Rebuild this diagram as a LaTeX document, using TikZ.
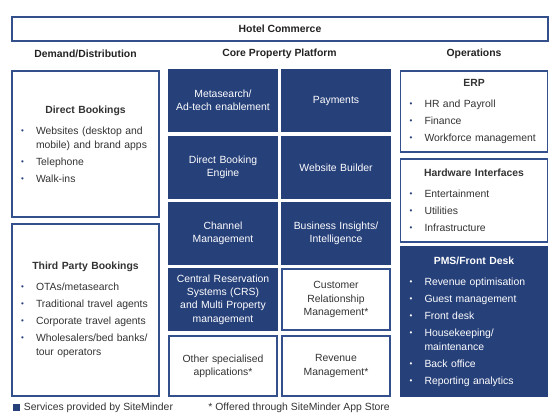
\documentclass[tikz,border=0pt]{standalone}
\usepackage{fontspec}
\setmainfont{Liberation Sans}
\usetikzlibrary{positioning}
\definecolor{Navy}{HTML}{26407A}
\definecolor{Edge}{HTML}{34508C}
\definecolor{Ink}{HTML}{333333}
\definecolor{Head}{HTML}{222222}

\newcommand{\bulcolor}{Navy}
\newcommand{\bul}[1]{\par\vspace{2.25pt}\noindent
  \makebox[14pt][l]{\hspace{2.75pt}\textcolor{\bulcolor}{\raisebox{0.6pt}{\fontsize{6}{6}\selectfont\textbullet}}}#1\par}
\newcommand{\cont}[1]{\par\noindent\hspace*{14pt}#1\par}
\newcommand{\ptitle}[1]{{\centering\bfseries #1\par}\vspace{3pt}}

\begin{document}
\begin{tikzpicture}[
  x=0.75pt, y=-0.75pt,
  font=\fontsize{7.8}{10.5}\selectfont, text=Ink,
  box/.style={draw=Edge, line width=0.8pt, inner sep=0pt, fill=white},
  head/.style={font=\fontsize{7.8}{10.5}\selectfont\bfseries, text=Head},
  core/.style={box, minimum width=81pt, minimum height=45.75pt, align=center, text width=77pt, font=\fontsize{7.8}{10}\selectfont},
  sm/.style={core, fill=Navy, draw=Navy, text=white},
  panel/.style={box, inner xsep=4pt, align=left, text width=102.25pt},
  smpanel/.style={panel, fill=Navy, draw=Navy, text=white, execute at begin node={\renewcommand{\bulcolor}{white}}}
]
\useasboundingbox (0,0) rectangle (560,419);

% top bar and column heads
\node[box, head, minimum width=402pt, minimum height=18pt] (hotel) at (280,29) {Hotel Commerce};
\node[head] (demand) at (85.5,54) {Demand/Distribution};
\node[head] (core) at (279.5,54) {Core Property Platform};
\node[head] (ops) at (474,54) {Operations};

% demand / distribution
\node[panel, minimum height=109.5pt] (direct) at (85.5,144) {\ptitle{Direct Bookings}
  \bul{Websites (desktop and}\cont{mobile) and brand apps}
  \bul{Telephone}
  \bul{Walk-ins}};
\node[panel, minimum height=129pt] (third) at (85.5,310) {\ptitle{Third Party Bookings}
  \bul{OTAs/metasearch}
  \bul{Traditional travel agents}
  \bul{Corporate travel agents}
  \bul{Wholesalers/bed banks/}\cont{tour operators}};

% core property platform
\node[sm] (meta) at (223,100.5) {Metasearch/\\Ad-tech enablement};
\node[sm] (pay) at (336,100.5) {Payments};
\node[sm] (dbe) at (223,167.5) {Direct Booking\\Engine};
\node[sm] (web) at (336,167.5) {Website Builder};
\node[sm] (chan) at (223,233.5) {Channel\\Management};
\node[sm] (bi) at (336,233.5) {Business Insights/\\Intelligence};
\node[sm] (crs) at (223,299.5) {Central Reservation\\Systems (CRS)\\and Multi Property\\management};
\node[core] (crm) at (336,299.5) {Customer\\Relationship\\Management*};
\node[core, minimum height=45pt] (other) at (223,366) {Other specialised\\applications*};
\node[core, minimum height=45pt] (rev) at (336,366) {Revenue\\Management*};

% operations
\node[panel, minimum height=60.75pt] (erp) at (474,111.5) {\ptitle{ERP}
  \bul{HR and Payroll}
  \bul{Finance}
  \bul{Workforce management}};
\node[panel, minimum height=62.25pt] (hw) at (474,200.5) {\ptitle{Hardware Interfaces}
  \bul{Entertainment}
  \bul{Utilities}
  \bul{Infrastructure}};
\node[smpanel, minimum height=111.75pt] (pms) at (474,321.5) {\ptitle{PMS/Front Desk}
  \bul{Revenue optimisation}
  \bul{Guest management}
  \bul{Front desk}
  \bul{Housekeeping/}\cont{maintenance}
  \bul{Back office}
  \bul{Reporting analytics}};

% legend
\node[fill=Navy, minimum size=5.25pt, inner sep=0pt] (key) at (16.5,407.5) {};
\node[right=2.5pt of key, inner sep=0pt] (keytext) {Services provided by SiteMinder};
\node[anchor=east, inner sep=0pt] (appstore) at (390,408) {* Offered through SiteMinder App Store};
\end{tikzpicture}
\end{document}
